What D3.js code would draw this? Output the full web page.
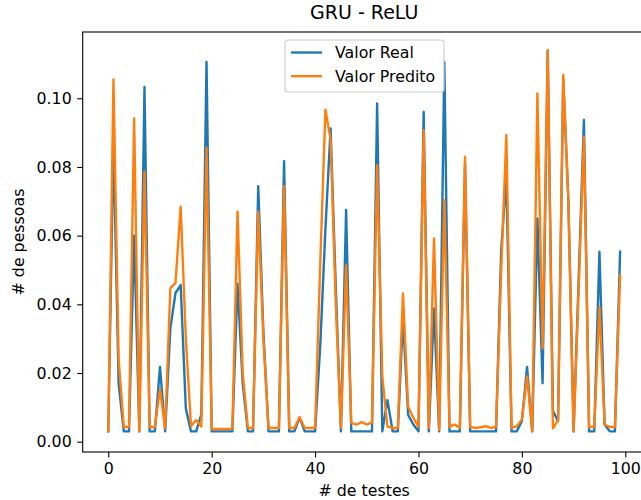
<!DOCTYPE html>
<html lang="pt">
<head>
<meta charset="UTF-8">
<title>GRU - ReLU</title>
<script src="https://d3js.org/d3.v7.min.js"></script>
<style>
  body { margin: 0; background: #fff; }
  svg { display: block; font-family: "DejaVu Sans", sans-serif; }
</style>
</head>
<body>
<svg width="641" height="500"></svg>
<script>
// valores (indices 0..99)
const valorReal = [
  0.003, 0.088, 0.017, 0.003, 0.003, 0.060, 0.003, 0.1033, 0.003, 0.003,
  0.0218, 0.003, 0.033, 0.0433, 0.0456, 0.0097, 0.003, 0.003, 0.008, 0.1106,
  0.003, 0.003, 0.003, 0.003, 0.003, 0.046, 0.017, 0.003, 0.003, 0.0744,
  0.032, 0.003, 0.003, 0.003, 0.0817, 0.003, 0.003, 0.007, 0.003, 0.003,
  0.003, 0.028, 0.062, 0.0912, 0.045, 0.003, 0.0675, 0.003, 0.003, 0.003,
  0.003, 0.003, 0.0985, 0.003, 0.0121, 0.003, 0.003, 0.036, 0.0078, 0.005,
  0.003, 0.096, 0.003, 0.0388, 0.003, 0.1106, 0.003, 0.003, 0.003, 0.081,
  0.003, 0.003, 0.003, 0.003, 0.003, 0.003, 0.056, 0.077, 0.003, 0.003,
  0.006, 0.0218, 0.003, 0.065, 0.017, 0.1139, 0.009, 0.006, 0.1055, 0.07,
  0.003, 0.048, 0.0937, 0.003, 0.003, 0.0553, 0.005, 0.003, 0.003, 0.0553
];
const valorPredito = [
  0.003, 0.1055, 0.024, 0.0043, 0.0043, 0.0941, 0.003, 0.0786, 0.0043, 0.0043,
  0.0153, 0.0038, 0.0447, 0.0462, 0.0684, 0.03, 0.0045, 0.0063, 0.0044, 0.0856,
  0.0037, 0.0037, 0.0037, 0.0037, 0.0038, 0.067, 0.02, 0.004, 0.004, 0.067,
  0.03, 0.004, 0.004, 0.004, 0.0744, 0.004, 0.004, 0.0072, 0.004, 0.004,
  0.004, 0.052, 0.0967, 0.088, 0.04, 0.004, 0.0514, 0.0055, 0.005, 0.0057,
  0.005, 0.0056, 0.0805, 0.019, 0.0044, 0.004, 0.004, 0.0432, 0.0102, 0.007,
  0.0043, 0.0907, 0.004, 0.0592, 0.0035, 0.0704, 0.0043, 0.005, 0.004, 0.083,
  0.0043, 0.004, 0.0042, 0.0045, 0.004, 0.0043, 0.05, 0.0893, 0.004, 0.0045,
  0.0065, 0.019, 0.003, 0.1014, 0.0272, 0.114, 0.0039, 0.0063, 0.1068, 0.07,
  0.003, 0.045, 0.0888, 0.0043, 0.0043, 0.0393, 0.005, 0.0043, 0.0043, 0.0485
];
const xTicks = [0, 20, 40, 60, 80, 100];
const yTicks = [0, 0.02, 0.04, 0.06, 0.08, 0.10];
const seriesNames = ["Valor Real", "Valor Predito"];
const colors = ["#1f77b4", "#ff7f0e"];

const svg = d3.select("svg");
const mLeft = 82.7, mRight = 645.7, mTop = 32, mBottom = 452;
const fs = 15.8;

const x = d3.scaleLinear().domain([-4.95, 103.95]).range([mLeft, mRight]);
const y = d3.scaleLinear().domain([-0.003, 0.1193]).range([mBottom, mTop]);

const plot = svg.append("g");
plot.append("clipPath").attr("id", "clip")
  .append("rect").attr("x", mLeft).attr("y", mTop)
  .attr("width", mRight - mLeft).attr("height", mBottom - mTop);

const line = d3.line().x((d, i) => x(i)).y(d => y(d));

[valorReal, valorPredito].forEach((s, k) => {
  plot.append("path")
    .datum(s)
    .attr("clip-path", "url(#clip)")
    .attr("fill", "none")
    .attr("stroke", colors[k])
    .attr("stroke-width", 2.4)
    .attr("stroke-linejoin", "round")
    .attr("stroke-linecap", "square")
    .attr("d", line);
});

// eixos
const xAxis = d3.axisBottom(x).tickValues(xTicks).tickFormat(d3.format("d"))
  .tickSize(5.5).tickPadding(5.5);
const yAxis = d3.axisLeft(y).tickValues(yTicks).tickFormat(d3.format(".2f"))
  .tickSize(5.5).tickPadding(5.5);

const gx = svg.append("g").attr("transform", `translate(0,${mBottom})`).call(xAxis);
const gy = svg.append("g").attr("transform", `translate(${mLeft},0)`).call(yAxis);
[gx, gy].forEach(g => {
  g.select(".domain").remove();
  g.selectAll("line").attr("stroke", "#000").attr("stroke-width", 1.1);
  g.selectAll("text").attr("font-size", fs).attr("fill", "#000")
    .attr("font-family", "DejaVu Sans, sans-serif");
});

// moldura
svg.append("rect")
  .attr("x", mLeft).attr("y", mTop)
  .attr("width", mRight - mLeft).attr("height", mBottom - mTop)
  .attr("fill", "none").attr("stroke", "#000").attr("stroke-width", 1.1);

// titulo e rotulos
const cx = (mLeft + mRight) / 2;
svg.append("text").attr("x", cx).attr("y", 18.5)
  .attr("text-anchor", "middle").attr("font-size", 19)
  .text("GRU - ReLU");
svg.append("text").attr("x", cx).attr("y", 496)
  .attr("text-anchor", "middle").attr("font-size", fs)
  .text("# de testes");
svg.append("text")
  .attr("transform", `translate(24,${(mTop + mBottom) / 2}) rotate(-90)`)
  .attr("text-anchor", "middle").attr("font-size", fs)
  .text("# de pessoas");

// legenda
const lg = svg.append("g");
lg.append("rect")
  .attr("x", 285).attr("y", 40).attr("width", 159).attr("height", 52)
  .attr("rx", 3).attr("fill", "#fff").attr("fill-opacity", 0.8)
  .attr("stroke", "#cccccc").attr("stroke-width", 1.1);
seriesNames.forEach((n, k) => {
  const yy = 52.5 + k * 23.7;
  lg.append("line").attr("x1", 291).attr("x2", 322)
    .attr("y1", yy).attr("y2", yy)
    .attr("stroke", colors[k]).attr("stroke-width", 2.4);
  lg.append("text").attr("x", 335).attr("y", yy + 5.6)
    .attr("font-size", fs).text(n);
});
</script>
</body>
</html>
